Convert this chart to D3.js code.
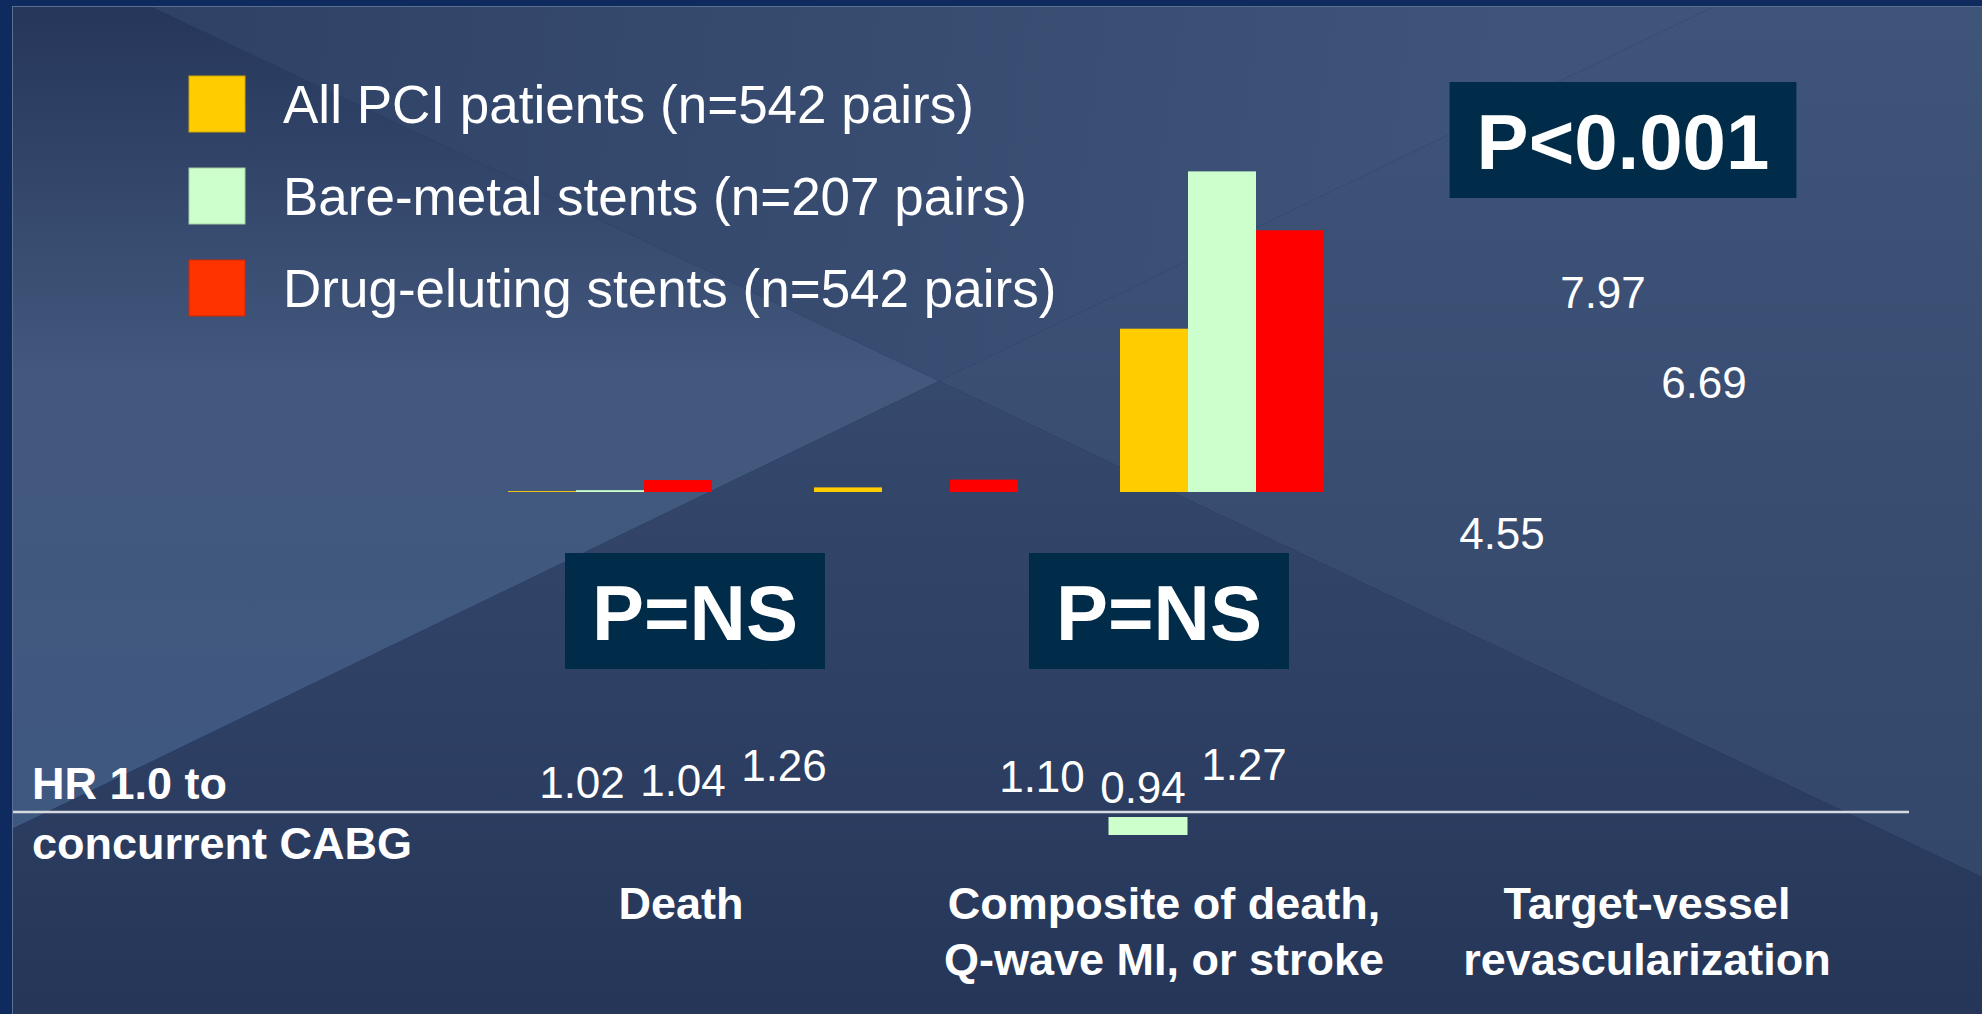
<!DOCTYPE html>
<html>
<head>
<meta charset="utf-8">
<script src="https://cdn.jsdelivr.net/npm/d3@7"></script>
<style>
  body { margin: 0; background: #0f2a5e; }
  svg { display: block; }
  text { font-family: "Liberation Sans", Arial, sans-serif; fill: #fff; }
</style>
</head>
<body>
<div id="chart"></div>
<script>
// chart data
var categories = ["Death", "Composite", "TVR"];
var categoryLines = [["Death"], ["Composite of death,", "Q-wave MI, or stroke"], ["Target-vessel", "revascularization"]];
var seriesNames = ["All PCI patients (n=542 pairs)", "Bare-metal stents (n=207 pairs)", "Drug-eluting stents (n=542 pairs)"];
var allPci = [1.02, 1.10, 4.55];
var bareMetal = [1.04, 0.94, 7.97];
var drugEluting = [1.26, 1.27, 6.69];
var pValues = ["P=NS", "P=NS", "P<0.001"];
var refLabel = ["HR 1.0 to", "concurrent CABG"];

var legendColors = ["#ffcc00", "#ccffcc", "#ff3300"];
var barColors = ["#ffcc00", "#ccffcc", "#ff0000"];
var series = [allPci, bareMetal, drugEluting];

var W = 1982, H = 1014;

var svg = d3.select("#chart")
  .append("svg")
    .attr("width", W)
    .attr("height", H);

// ---- background (slide facets) ----
var defs = svg.append("defs");
function vGrad(id, stops, x1, y1, x2, y2) {
  var g = defs.append("linearGradient").attr("id", id)
    .attr("gradientUnits", "userSpaceOnUse")
    .attr("x1", x1).attr("y1", y1).attr("x2", x2).attr("y2", y2);
  stops.forEach(function(s) {
    g.append("stop").attr("offset", s[0]).attr("stop-color", s[1]);
  });
}
vGrad("gLeft", [[0, "#25365a"], [0.45, "#43587d"], [1, "#3f5880"]], 0, 6, 0, 830);
vGrad("gTop", [[0, "#2f4266"], [1, "#3f5479"]], 150, 6, 1500, 200);
vGrad("gRight", [[0, "#3f5479"], [1, "#33476a"]], 0, 6, 0, 877);
vGrad("gBottom", [[0, "#35496c"], [0.5, "#2e4064"], [1, "#253658"]], 0, 380, 0, 1014);

svg.append("rect").attr("width", W).attr("height", H).attr("fill", "#0f2a5e");
var bg = svg.append("g");
var cx = 939, cy = 381;
bg.append("polygon").attr("points", [[12,6],[150,6],[cx,cy],[12,829]].join(" ")).attr("fill", "url(#gLeft)");
bg.append("polygon").attr("points", [[150,6],[1715,6],[cx,cy]].join(" ")).attr("fill", "url(#gTop)");
bg.append("polygon").attr("points", [[1715,6],[W,6],[W,877],[cx,cy]].join(" ")).attr("fill", "url(#gRight)");
bg.append("polygon").attr("points", [[12,829],[cx,cy],[W,877],[W,H],[12,H]].join(" ")).attr("fill", "url(#gBottom)");
bg.append("line").attr("x1", 12.5).attr("x2", 12.5).attr("y1", 6).attr("y2", H)
  .attr("stroke", "#5b6f92").attr("stroke-width", 1);
bg.append("line").attr("x1", 12).attr("x2", W).attr("y1", 6.5).attr("y2", 6.5)
  .attr("stroke", "#5b6f92").attr("stroke-width", 1);

// ---- legend ----
var legend = svg.append("g").attr("transform", "translate(189,76)");
seriesNames.forEach(function(name, i) {
  var row = legend.append("g").attr("transform", "translate(0," + (i * 92) + ")");
  row.append("rect")
    .attr("width", 56).attr("height", 56)
    .attr("fill", legendColors[i])
    .attr("stroke", d3.color(legendColors[i]).darker(0.6))
    .attr("stroke-width", 1);
  row.append("text")
    .attr("x", 94).attr("y", 47)
    .style("font-size", "53px")
    .text(name);
});

// ---- bars (as drawn on the slide) ----
var x0 = d3.scaleBand()
  .domain(categories)
  .range([457, 1375])
  .paddingInner(1 / 3)
  .paddingOuter(1 / 6);
var x1 = d3.scaleBand()
  .domain([0, 1, 2])
  .range([0, x0.bandwidth()]);
var y = d3.scaleLinear()
  .domain([1, 8])
  .range([492, 492 - 7 * 46]);

var barData = [];
categories.forEach(function(c, ci) {
  series.forEach(function(s, si) {
    barData.push({cat: c, ci: ci, si: si, value: s[ci]});
  });
});

svg.append("g").selectAll("rect")
  .data(barData.filter(function(d) { return d.value >= 1; }))
  .enter()
  .append("rect")
    .attr("x", function(d) { return x0(d.cat) + x1(d.si); })
    .attr("y", function(d) { return y(d.value); })
    .attr("width", x1.bandwidth())
    .attr("height", function(d) { return y(1) - y(d.value); })
    .attr("fill", function(d) { return barColors[d.si]; });

// ---- value labels, HR 1.0 line ----
var xl = d3.scalePoint().domain(categories).range([683, 1603]);
var xlSub = d3.scalePoint().domain([0, 1, 2]).range([-101, 101]);
var yl = d3.scaleLinear().domain([1, 8]).range([799, 799 - 7 * 70.45]);
var yDrop = d3.scaleLinear().domain([1, 0.9]).range([817, 847]);

svg.append("line")
  .attr("x1", 13).attr("x2", 1909)
  .attr("y1", 812).attr("y2", 812)
  .attr("stroke", "#d6d9df")
  .attr("stroke-width", 2.5);

// bars below HR 1.0
svg.append("g").selectAll("rect")
  .data(barData.filter(function(d) { return d.value < 1; }))
  .enter()
  .append("rect")
    .attr("x", function(d) { return xl(d.cat) + xlSub(d.si) + 5 - 39.5; })
    .attr("y", yDrop(1))
    .attr("width", 79)
    .attr("height", function(d) { return yDrop(d.value) - yDrop(1); })
    .attr("fill", function(d) { return barColors[d.si]; });

svg.append("g").selectAll("text")
  .data(barData)
  .enter()
  .append("text")
    .attr("x", function(d) { return xl(d.cat) + xlSub(d.si); })
    .attr("y", function(d) { return yl(d.value); })
    .attr("text-anchor", "middle")
    .style("font-size", "44px")
    .text(function(d) { return d.value.toFixed(2); });

// reference label
refLabel.forEach(function(t, i) {
  svg.append("text")
    .attr("x", 32).attr("y", 799 + i * 60)
    .style("font-size", "45px")
    .style("font-weight", "bold")
    .text(t);
});

// category labels
var xc = d3.scalePoint().domain(categories).range([681, 1647]);
categories.forEach(function(c, i) {
  var t = svg.append("text")
    .attr("x", xc(c)).attr("y", 919)
    .attr("text-anchor", "middle")
    .style("font-size", "45px")
    .style("font-weight", "bold");
  categoryLines[i].forEach(function(line, j) {
    t.append("tspan").attr("x", xc(c)).attr("dy", j === 0 ? 0 : 56).text(line);
  });
});

// ---- p-value boxes ----
var xb = d3.scalePoint().domain(categories).range([695, 1623]);
var boxTop = [553, 553, 82];
pValues.forEach(function(p, i) {
  var g = svg.append("g");
  var rect = g.append("rect").attr("fill", "#002b49");
  var txt = g.append("text")
    .attr("x", xb(categories[i]))
    .attr("y", boxTop[i] + 87)
    .attr("text-anchor", "middle")
    .style("font-size", "78px")
    .style("font-weight", "bold")
    .text(p);
  var w = txt.node().getComputedTextLength() + 54;
  rect.attr("x", xb(categories[i]) - w / 2)
    .attr("y", boxTop[i])
    .attr("width", w)
    .attr("height", 116);
});
</script>
</body>
</html>
